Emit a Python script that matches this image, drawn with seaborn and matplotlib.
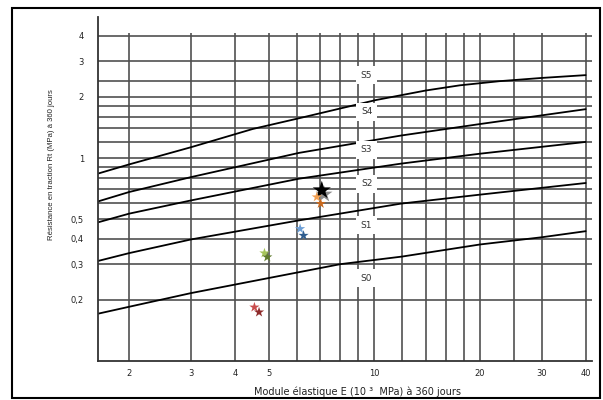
import numpy as np
import pandas as pd
import matplotlib
matplotlib.use("Agg")
import matplotlib.pyplot as plt
import seaborn as sns
from matplotlib import font_manager
from matplotlib.patches import Rectangle
from matplotlib.ticker import NullLocator

# class boundary curves (E in 10^3 MPa, Rt in MPa)
c0_E = [1.63, 2, 3, 8, 12, 20, 30, 40]
c0_R = [0.171, 0.185, 0.216, 0.30, 0.327, 0.375, 0.407, 0.436]
c1_E = [1.63, 2, 3, 6.1, 11.9, 20, 40]
c1_R = [0.311, 0.340, 0.397, 0.493, 0.596, 0.66, 0.753]
c2_E = [1.63, 2, 3, 6.1, 11.9, 20, 40]
c2_R = [0.482, 0.532, 0.618, 0.791, 0.938, 1.05, 1.20]
c3_E = [1.63, 2, 3, 6.1, 11.9, 20, 40]
c3_R = [0.611, 0.680, 0.805, 1.06, 1.29, 1.47, 1.74]
c4_E = [1.63, 2, 3, 4.5, 6.1, 10.1, 14, 17.5, 22.7, 30, 40]
c4_R = [0.838, 0.930, 1.13, 1.39, 1.57, 1.93, 2.15, 2.28, 2.39, 2.48, 2.56]

class_names = ["S0", "S1", "S2", "S3", "S4", "S5"]
class_label_E = 9.5
class_label_R = [0.255, 0.466, 0.748, 1.10, 1.69, 2.56]

# measured samples
star_names = ["gris", "noir", "orange1", "orange2", "bleu1", "bleu2",
              "vert1", "vert2", "rouge1", "rouge2"]
star_E = [7.19, 7.08, 6.85, 7.03, 6.14, 6.28, 4.86, 4.95, 4.55, 4.69]
star_R = [0.662, 0.693, 0.642, 0.596, 0.448, 0.415, 0.340, 0.325, 0.184, 0.174]
star_colors = ["#8c8c8c", "#000000", "#f2a052", "#c8691e", "#6d9fd6", "#2f5d8f",
               "#a6c45a", "#5f7a2c", "#c94c4c", "#8e2b2b"]
star_sizes = [160, 190, 60, 60, 60, 60, 60, 60, 60, 60]

# grid and ticks
grid_E = [2, 3, 4, 5, 6, 7, 8, 9, 10, 12, 14, 16, 18, 20, 25, 30, 40]
grid_R = [0.2, 0.3, 0.4, 0.5, 0.6, 0.7, 0.8, 0.9, 1, 1.2, 1.4, 1.6, 1.8, 2, 2.4, 3, 4]
xticks = [2, 3, 4, 5, 10, 20, 30, 40]
xtick_labels = ["2", "3", "4", "5", "10", "20", "30", "40"]
yticks = [0.2, 0.3, 0.4, 0.5, 1, 2, 3, 4]
ytick_labels = ["0,2", "0,3", "0,4", "0,5", "1", "2", "3", "4"]

sns.set_style("white")
installed = {f.name for f in font_manager.fontManager.ttflist}
narrow = "Liberation Sans Narrow" if "Liberation Sans Narrow" in installed else "Liberation Sans"
plt.rcParams["font.family"] = ["DejaVu Sans"]

fig = plt.figure(figsize=(6.03, 4.0), dpi=100)
ax = fig.add_axes([98 / 603, 1 - 361 / 400, 494 / 603, 344 / 400])
ax.set_xscale("log")
ax.set_yscale("log")
ax.set_xlim(1.63, 41.7)
ax.set_ylim(0.1, 4.95)

grid_col = "#505050"
ax.hlines(grid_R, 1.63, 41.7, color=grid_col, lw=1.2, zorder=1)
ax.vlines(grid_E, 0.1, 4.15, color=grid_col, lw=1.2, zorder=1)

curves = [(c0_E, c0_R), (c1_E, c1_R), (c2_E, c2_R), (c3_E, c3_R), (c4_E, c4_R)]
for e, r in curves:
    sns.lineplot(x=e, y=r, ax=ax, color="black", lw=1.3, zorder=2)

for name, r in zip(class_names, class_label_R):
    ax.text(class_label_E, r, name, ha="center", va="center", fontsize=6.5,
            color="#333333", zorder=4,
            bbox=dict(boxstyle="square,pad=0.5", fc="white", ec="none"))

stars = pd.DataFrame({"E": star_E, "R": star_R, "nom": star_names})
sns.scatterplot(data=stars, x="E", y="R", hue="nom",
                palette=dict(zip(star_names, star_colors)),
                size="nom", sizes=dict(zip(star_names, star_sizes)),
                marker="*", edgecolor="none", legend=False, ax=ax, zorder=5)

ax.xaxis.set_minor_locator(NullLocator())
ax.yaxis.set_minor_locator(NullLocator())
ax.set_xticks(xticks, xtick_labels)
ax.set_yticks(yticks, ytick_labels)
ax.tick_params(axis="x", length=0, pad=5.5, labelsize=6, colors="#222222")
ax.tick_params(axis="y", length=0, pad=10, labelsize=6, colors="#222222")
ax.set_xlabel("")
ax.set_ylabel("")
for side in ["top", "right"]:
    ax.spines[side].set_visible(False)
for side in ["left", "bottom"]:
    ax.spines[side].set_color("#333333")
    ax.spines[side].set_linewidth(1.3)

fig.text(358 / 603, 1 - 391.5 / 400, "Module élastique E (10 ³  MPa) à 360 jours",
         ha="center", va="center", fontsize=7, color="#222222")
fig.text(51.5 / 603, 1 - 165 / 400, "Résistance en traction Rt (MPa) à 360 jours",
         ha="center", va="center", rotation=90, fontsize=5.6, color="#222222",
         family=narrow)

fig.patches.append(Rectangle((12 / 603, 2 / 400), 588 / 603, 390 / 400,
                             transform=fig.transFigure, fill=False,
                             ec="black", lw=1.5))

fig.savefig("out.png", dpi=100)
